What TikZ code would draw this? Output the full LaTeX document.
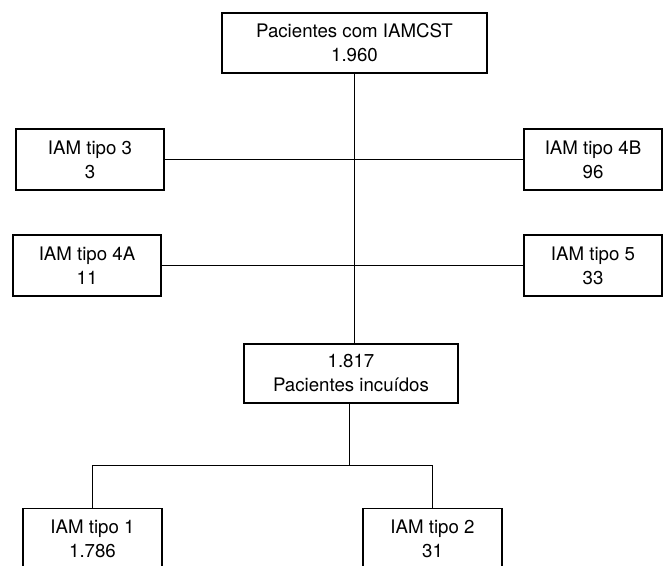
\documentclass[tikz,border=0pt]{standalone}
\usepackage{fontspec}
\setmainfont{TeX Gyre Heros}
\tikzset{box/.style={draw, line width=0.8pt, align=center, inner sep=0pt,
    font=\fontsize{14}{18}\selectfont}}
\begin{document}
\begin{tikzpicture}[x=0.75pt, y=-0.75pt, line width=0.8pt]
      \useasboundingbox (0,0) rectangle (663,565);
      \clip (0,0) rectangle (663,565);
      \draw
        (354.5,43) node[box, minimum width=198.75pt, minimum height=45pt] (top){Pacientes com IAMCST\\1.960}
        (90,159.5) node[box, minimum width=111pt, minimum height=45.75pt] (t3){IAM tipo 3\\3}
        (593,159.5) node[box, minimum width=103.5pt, minimum height=45.75pt] (t4B){IAM tipo 4B\\96}
        (87,265.5) node[box, minimum width=111pt, minimum height=45.75pt] (t4A){IAM tipo 4A\\11}
        (593,265.5) node[box, minimum width=103.5pt, minimum height=45.75pt] (t5){IAM tipo 5\\33}
        (351,373.5) node[box, minimum width=160.5pt, minimum height=44.25pt] (mid){1.817\\Pacientes incuídos}
        (92.5,538.5) node[box, minimum width=104.25pt, minimum height=45pt] (t1){IAM tipo 1\\1.786}
        (432.5,538.5) node[box, minimum width=104.25pt, minimum height=45pt] (t2){IAM tipo 2\\31};
      \coordinate (split) at (349.5,465.5);
      \begin{scope}[-]
        \draw (top.south) -- (top.south |- mid.north);
        \draw (t3.east) -- (t4B.west);
        \draw (t4A.east) -- (t5.west);
        \draw (mid.south -| split) -- (split);
        \draw (t1.north) |- (split) -| (t2.north);
      \end{scope}
    \end{tikzpicture}
\end{document}
